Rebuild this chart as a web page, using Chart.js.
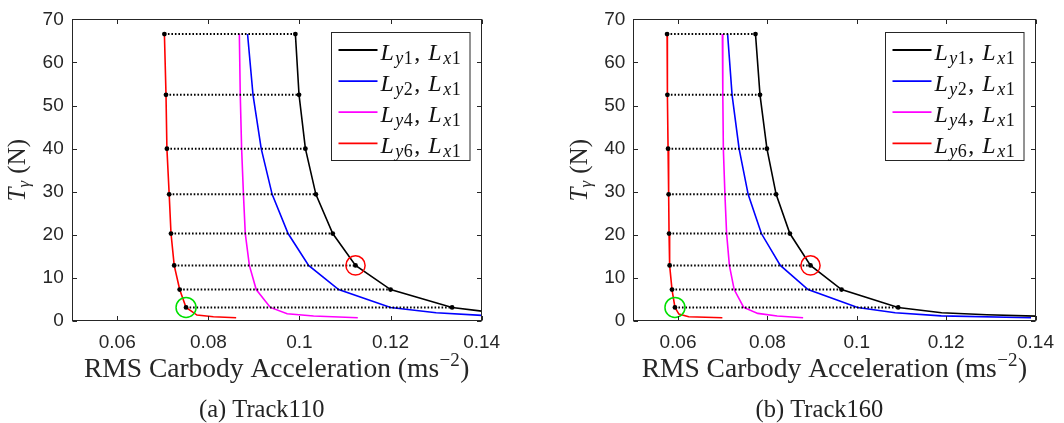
<!DOCTYPE html>
<html><head><meta charset="utf-8">
<script src="https://cdn.jsdelivr.net/npm/chart.js@4.4.1/dist/chart.umd.min.js"></script>
<style>
html,body{margin:0;padding:0;background:#fff;}
#wrap{position:relative;width:1064px;height:423px;overflow:hidden;background:#fff;}
.panel{position:absolute;top:0;width:532px;height:423px;}
canvas{display:block;}
</style></head><body>
<div id="wrap">
<div class="panel" style="left:0"><canvas id="c1" width="532" height="423"></canvas></div>
<div class="panel" style="left:532px"><canvas id="c2" width="532" height="423"></canvas></div>
</div>
<script>
// ---------- data ----------
const T_LEVELS = [66.6, 52.5, 40.0, 29.4, 20.3, 12.9, 7.3, 3.15];
const X_TICKS = [0.06, 0.08, 0.10, 0.12, 0.14];
const Y_TICKS = [0, 10, 20, 30, 40, 50, 60, 70];
const SERIES_LABELS = ['L_y1, L_x1', 'L_y2, L_x1', 'L_y4, L_x1', 'L_y6, L_x1'];
const SERIES_COLORS = ['#000000', '#0000ff', '#ff00ff', '#ff0000'];
const X_TITLE = 'RMS Carbody Acceleration (ms';
const X_TITLE_SUP = '\u22122';
const Y_TITLE_BASE = 'T', Y_TITLE_SUB = '\u03b3', Y_TITLE_REST = ' (N)';
const CAPTIONS = ['(a) Track110', '(b) Track160'];

// Track110
const A_LY1_X = [0.0991, 0.0999, 0.1013, 0.1036, 0.1073, 0.1123, 0.1200, 0.1335];
const A_LY1_TAIL_X = [0.1400], A_LY1_TAIL_T = [2.3];
const A_LY2_X = [0.0886, 0.0898, 0.0916, 0.0940, 0.0975, 0.1020, 0.1086, 0.1200];
const A_LY2_TAIL_X = [0.1300, 0.1400], A_LY2_TAIL_T = [1.9, 1.3];
const A_LY4_X = [0.0868, 0.0870, 0.0873, 0.0877, 0.0881, 0.0890, 0.0905, 0.0936];
const A_LY4_TAIL_X = [0.0973, 0.1031, 0.1128], A_LY4_TAIL_T = [1.7, 1.15, 0.77];
const A_LY6_X = [0.07035, 0.0707, 0.0709, 0.0714, 0.0718, 0.0725, 0.0737, 0.0751];
const A_LY6_TAIL_X = [0.0775, 0.0811, 0.0861], A_LY6_TAIL_T = [1.38, 1.0, 0.76];

// Track160
const B_LY1_X = [0.07734, 0.07835, 0.0799, 0.08196, 0.08503, 0.08965, 0.0966, 0.10927];
const B_LY1_TAIL_X = [0.1190, 0.1291, 0.1400], B_LY1_TAIL_T = [1.9, 1.45, 1.12];
const B_LY2_X = [0.0711, 0.0721, 0.07367, 0.0757, 0.07866, 0.0829, 0.0891, 0.1002];
const B_LY2_TAIL_X = [0.1086, 0.1189, 0.1390], B_LY2_TAIL_T = [1.92, 1.2, 0.77];
const B_LY4_X = [0.06993, 0.07003, 0.07015, 0.0705, 0.07088, 0.0715, 0.07257, 0.0747];
const B_LY4_TAIL_X = [0.07785, 0.0822, 0.0880], B_LY4_TAIL_T = [1.77, 1.15, 0.77];
const B_LY6_X = [0.05756, 0.05763, 0.05778, 0.05791, 0.05800, 0.05813, 0.05866, 0.05932];
const B_LY6_TAIL_X = [0.0602, 0.0624, 0.06993], B_LY6_TAIL_T = [1.6, 1.0, 0.77];

// highlighted points: red circle on Ly1 at level index 5, green circle on Ly6 at level index 7
const RED_CIRCLE_LEVEL = 5, GREEN_CIRCLE_LEVEL = 7;

// ---------- helpers ----------
const AXIS_COLOR = '#262626';
const SANS = '"Liberation Sans", Arial, sans-serif';
const SERIF = '"Liberation Serif", "Times New Roman", serif';

function curve(levelsX, tailX, tailT) {
  const xs = levelsX.concat(tailX), ts = T_LEVELS.concat(tailT);
  return xs.map((x, i) => ({ x: x, y: ts[i] }));
}

function buildDatasets(s) {
  const ds = [];
  const curves = [[s.ly1, s.ly1tx, s.ly1tt], [s.ly2, s.ly2tx, s.ly2tt], [s.ly4, s.ly4tx, s.ly4tt], [s.ly6, s.ly6tx, s.ly6tt]];
  curves.forEach((c, k) => ds.push({
    label: SERIES_LABELS[k], data: curve(c[0], c[1], c[2]), showLine: true,
    borderColor: SERIES_COLORS[k], borderWidth: 1.6, pointRadius: 0, tension: 0, order: 3, legendItem: true
  }));
  T_LEVELS.forEach((t, i) => ds.push({
    data: [{ x: s.ly6[i], y: t }, { x: s.ly1[i], y: t }], showLine: true,
    borderColor: '#000', borderWidth: 2, borderDash: [1.6, 1.9], pointRadius: 0, order: 2
  }));
  [s.ly1, s.ly6].forEach(arr => ds.push({
    data: T_LEVELS.map((t, i) => ({ x: arr[i], y: t })), showLine: false,
    pointRadius: 2.4, pointBackgroundColor: '#000', pointBorderWidth: 0, order: 1
  }));
  ds.push({ data: [{ x: s.ly1[RED_CIRCLE_LEVEL], y: T_LEVELS[RED_CIRCLE_LEVEL] }], showLine: false,
    pointRadius: 9.6, pointBorderColor: '#ff0000', pointBackgroundColor: 'rgba(0,0,0,0)', pointBorderWidth: 1.5, order: 0 });
  ds.push({ data: [{ x: s.ly6[GREEN_CIRCLE_LEVEL], y: T_LEVELS[GREEN_CIRCLE_LEVEL] }], showLine: false,
    pointRadius: 10, pointBorderColor: '#00e000', pointBackgroundColor: 'rgba(0,0,0,0)', pointBorderWidth: 1.5, order: 0 });
  return ds;
}

const framePlugin = {
  id: 'frame',
  afterDatasetsDraw(chart) {
    const { ctx, chartArea: a, scales: { x, y } } = chart;
    ctx.save();
    ctx.strokeStyle = AXIS_COLOR; ctx.lineWidth = 1; ctx.setLineDash([]);
    const L = Math.round(a.left) + 0.5, R = Math.round(a.right) - 0.5, T = Math.round(a.top) + 0.5, B = Math.round(a.bottom) - 0.5;
    ctx.beginPath();
    X_TICKS.forEach(v => { const px = Math.round(x.getPixelForValue(v)) + 0.5;
      ctx.moveTo(px, B); ctx.lineTo(px, B - 4.5); ctx.moveTo(px, T); ctx.lineTo(px, T + 4.5); });
    Y_TICKS.forEach(v => { const py = Math.round(y.getPixelForValue(v)) + 0.5;
      ctx.moveTo(L, py); ctx.lineTo(L + 4.5, py); ctx.moveTo(R, py); ctx.lineTo(R - 4.5, py); });
    ctx.stroke();
    ctx.strokeRect(L, T, R - L, B - T);
    ctx.restore();
  }
};

// draws "L_y1, L_x1" style label: base italic, subscript letters italic, digits upright
function drawMathLabel(ctx, label, x0, y0, opt) {
  const parts = label.split(', ');
  let x = x0;
  parts.forEach((p, idx) => {
    const [base, sub] = p.split('_');
    ctx.font = 'italic ' + opt.main + 'px ' + SERIF;
    ctx.fillText(base, x, y0);
    x += ctx.measureText(base).width + opt.afterBase;
    for (const ch of sub) {
      const isDigit = /[0-9]/.test(ch);
      ctx.font = (isDigit ? '' : 'italic ') + opt.sub + 'px ' + SERIF;
      ctx.fillText(ch, x, y0 + opt.subDrop);
      x += ctx.measureText(ch).width + opt.subGap;
    }
    if (idx < parts.length - 1) {
      ctx.font = opt.main + 'px ' + SERIF;
      ctx.fillText(',', x + 1, y0);
      x += ctx.measureText(',').width + opt.commaGap;
    }
  });
}

const textPlugin = {
  id: 'texts',
  afterDraw(chart, args, o) {
    const { ctx, chartArea: a } = chart;
    ctx.save();
    ctx.fillStyle = AXIS_COLOR; ctx.textBaseline = 'alphabetic';
    const cx = (a.left + a.right) / 2;
    // x title
    const fs = 27.5, ss = 19;
    ctx.font = fs + 'px ' + SERIF;
    const w1 = ctx.measureText(X_TITLE).width;
    ctx.font = ss + 'px ' + SERIF;
    const ws = ctx.measureText(X_TITLE_SUP).width;
    ctx.font = fs + 'px ' + SERIF;
    const w2 = ctx.measureText(')').width;
    let x = cx - (w1 + ws + w2 + 1) / 2;
    const by = 377;
    ctx.fillText(X_TITLE, x, by); x += w1 + 0.5;
    ctx.font = ss + 'px ' + SERIF; ctx.fillText(X_TITLE_SUP, x, by - 11); x += ws + 0.5;
    ctx.font = fs + 'px ' + SERIF; ctx.fillText(')', x, by);
    // y title (rotated)
    ctx.save();
    ctx.translate(a.left - 46.5, (a.top + a.bottom) / 2);
    ctx.rotate(-Math.PI / 2);
    ctx.font = 'italic 25px ' + SERIF; const wt = ctx.measureText(Y_TITLE_BASE).width;
    ctx.font = 'italic 17px ' + SERIF; const wg = ctx.measureText(Y_TITLE_SUB).width;
    ctx.font = '25px ' + SERIF; const wr = ctx.measureText(Y_TITLE_REST).width;
    let tx = -(wt + wg + wr + 1) / 2;
    ctx.font = 'italic 25px ' + SERIF; ctx.fillText(Y_TITLE_BASE, tx, 0); tx += wt;
    ctx.font = 'italic 17px ' + SERIF; ctx.fillText(Y_TITLE_SUB, tx, 4); tx += wg + 1;
    ctx.font = '25px ' + SERIF; ctx.fillText(Y_TITLE_REST, tx, 0);
    ctx.restore();
    // caption
    ctx.font = '24.5px ' + SERIF; ctx.textAlign = 'center'; ctx.fillStyle = '#222';
    ctx.fillText(o.caption, cx - 15, 417);
    ctx.textAlign = 'left';
    // legend
    const bw = 138.5, bh = 128;
    const bx = Math.round(a.right - 12 - bw) + 0.5, byy = Math.round(a.top + 12.5) + 0.5;
    ctx.fillStyle = '#fff'; ctx.fillRect(bx, byy, bw, bh);
    ctx.strokeStyle = AXIS_COLOR; ctx.lineWidth = 1; ctx.strokeRect(bx, byy, bw, bh);
    const items = chart.data.datasets.filter(d => d.legendItem);
    items.forEach((d, i) => {
      const ry = byy + 17.5 + i * 31.1;
      ctx.strokeStyle = d.borderColor; ctx.lineWidth = 1.8; ctx.setLineDash([]);
      ctx.beginPath(); ctx.moveTo(bx + 7, ry); ctx.lineTo(bx + 46, ry); ctx.stroke();
      ctx.fillStyle = '#111';
      drawMathLabel(ctx, d.label, bx + 49, ry + 9.5, { main: 24, sub: 18, afterBase: 1.5, subDrop: 4, subGap: 0.5, commaGap: 9 });
    });
    ctx.restore();
  }
};

const PANELS = [
  { id: 'c1', caption: CAPTIONS[0], yAxisW: 71.7, rightPad: 50.3,
    ly1: A_LY1_X, ly1tx: A_LY1_TAIL_X, ly1tt: A_LY1_TAIL_T, ly2: A_LY2_X, ly2tx: A_LY2_TAIL_X, ly2tt: A_LY2_TAIL_T,
    ly4: A_LY4_X, ly4tx: A_LY4_TAIL_X, ly4tt: A_LY4_TAIL_T, ly6: A_LY6_X, ly6tx: A_LY6_TAIL_X, ly6tt: A_LY6_TAIL_T },
  { id: 'c2', caption: CAPTIONS[1], yAxisW: 101.3, rightPad: 21,
    ly1: B_LY1_X, ly1tx: B_LY1_TAIL_X, ly1tt: B_LY1_TAIL_T, ly2: B_LY2_X, ly2tx: B_LY2_TAIL_X, ly2tt: B_LY2_TAIL_T,
    ly4: B_LY4_X, ly4tx: B_LY4_TAIL_X, ly4tt: B_LY4_TAIL_T, ly6: B_LY6_X, ly6tx: B_LY6_TAIL_X, ly6tt: B_LY6_TAIL_T }
];

PANELS.forEach(p => {
  new Chart(document.getElementById(p.id), {
    type: 'scatter',
    data: { datasets: buildDatasets(p) },
    options: {
      responsive: false, animation: false, devicePixelRatio: 1, events: [],
      layout: { padding: { left: 0, right: p.rightPad, top: 16.7, bottom: 0 } },
      plugins: { legend: { display: false }, tooltip: { enabled: false }, texts: { caption: p.caption } },
      scales: {
        x: {
          type: 'linear', min: 0.05, max: 0.14,
          afterBuildTicks: sc => { sc.ticks = X_TICKS.map(v => ({ value: v })); },
          afterFit: sc => { sc.height = 102; },
          grid: { display: false, drawTicks: false }, border: { display: false },
          ticks: { color: AXIS_COLOR, font: { family: SANS, size: 19 }, padding: 10,
            callback: v => String(+v.toFixed(2)), maxRotation: 0, autoSkip: false }
        },
        y: {
          type: 'linear', min: 0, max: 70,
          afterBuildTicks: sc => { sc.ticks = Y_TICKS.map(v => ({ value: v })); },
          afterFit: sc => { sc.width = p.yAxisW; },
          grid: { display: false, drawTicks: false }, border: { display: false },
          ticks: { color: AXIS_COLOR, font: { family: SANS, size: 19 }, padding: 8, autoSkip: false }
        }
      }
    },
    plugins: [framePlugin, textPlugin]
  });
});
</script>
</body></html>
